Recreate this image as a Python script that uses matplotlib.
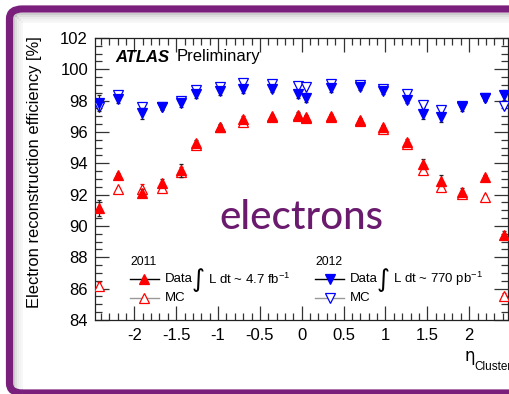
import matplotlib
matplotlib.use("Agg")
import matplotlib.pyplot as plt
from matplotlib.patches import FancyBboxPatch, Rectangle
from matplotlib.lines import Line2D
from matplotlib.ticker import MultipleLocator

plt.rcParams['font.family'] = ['Liberation Sans', 'DejaVu Sans']
plt.rcParams['mathtext.fontset'] = 'custom'
plt.rcParams['mathtext.rm'] = 'Liberation Sans'
plt.rcParams['mathtext.it'] = 'Liberation Sans:italic'

# eta bin centres
eta = [-2.42, -2.19, -1.91, -1.665, -1.445, -1.26, -0.975, -0.7, -0.35, -0.05,
       0.05, 0.35, 0.7, 0.975, 1.26, 1.445, 1.665, 1.91, 2.19, 2.42]

# 2011 efficiencies [%]
data11 = [91.15, 93.25, 92.1, 92.75, 93.55, 95.3, 96.35, 96.85, 96.95, 97.1,
          96.95, 97.0, 96.75, 96.3, 95.35, 93.95, 92.9, 92.2, 93.15, 89.4]
data11_err = [0.5, 0.15, 0.25, 0.25, 0.4, 0.2, 0.15, 0.2, 0.12, 0.15,
              0.15, 0.12, 0.12, 0.15, 0.2, 0.3, 0.35, 0.2, 0.1, 0.25]
mc11 = [86.2, 92.35, 92.35, 92.4, 93.45, 95.2, 96.3, 96.65, 97.0, 97.0,
        96.9, 96.95, 96.7, 96.2, 95.25, 93.6, 92.5, 92.05, 91.85, 85.5]
mc11_err = [0.2, 0.1, 0.3, 0.2, 0.3, 0.15, 0.1, 0.1, 0.1, 0.1,
            0.1, 0.1, 0.1, 0.1, 0.15, 0.25, 0.25, 0.15, 0.1, 0.2]

# 2012 efficiencies [%]
data12 = [97.85, 98.1, 97.2, 97.6, 97.85, 98.4, 98.6, 98.75, 98.75, 98.43,
          98.2, 98.8, 98.9, 98.6, 98.07, 97.15, 96.94, 97.57, 98.15, 98.36]
data12_err = [0.5, 0.25, 0.35, 0.2, 0.25, 0.25, 0.25, 0.25, 0.2, 0.25,
              0.3, 0.25, 0.2, 0.2, 0.25, 0.3, 0.3, 0.25, 0.2, 0.3]
mc12 = [97.6, 98.35, 97.6, 97.6, 98.0, 98.65, 98.9, 99.1, 99.05, 98.96,
        98.9, 99.07, 99.0, 98.75, 98.4, 97.72, 97.4, 97.65, 98.17, 97.65]
mc12_err = [0.15, 0.1, 0.15, 0.1, 0.1, 0.1, 0.1, 0.1, 0.1, 0.1,
            0.1, 0.1, 0.1, 0.1, 0.1, 0.15, 0.15, 0.1, 0.1, 0.15]

RED = '#ff0000'
BLUE = '#0000ff'
PURPLE = '#7b1f7d'

W, H = 510, 394
fig = plt.figure(figsize=(W / 100, H / 100), dpi=100)
fig.patch.set_facecolor('white')

# soft shadow inside the slide frame
for i, a in enumerate([0.20, 0.13, 0.08, 0.05, 0.03]):
    fig.patches.append(Rectangle(((13 + i * 2) / W, 0), 2 / W, 1 - (13 + i * 2) / H,
                                 transform=fig.transFigure, facecolor='black',
                                 alpha=a, edgecolor='none', zorder=0))
    fig.patches.append(Rectangle(((13 + i * 2) / W, 1 - (15 + i * 2) / H), 1, 2 / H,
                                 transform=fig.transFigure, facecolor='black',
                                 alpha=a, edgecolor='none', zorder=0))
# rounded slide frame
frame = FancyBboxPatch((9.5 / W, 1 - 393 / H), 1.2, (393 - 9) / H,
                       boxstyle="round,pad=0,rounding_size=0.025",
                       transform=fig.transFigure, facecolor='none',
                       edgecolor=PURPLE, linewidth=5.2, zorder=1)
fig.patches.append(frame)

x0, x1 = 95, 508.5
y0, y1 = 38, 320
ax = fig.add_axes([x0 / W, 1 - y1 / H, (x1 - x0) / W, (y1 - y0) / H])
ax.set_facecolor('none')
ax.set_xlim(-2.47, 2.47)
ax.set_ylim(84, 102)

ms = 7
ax.errorbar(eta, mc11, yerr=mc11_err, fmt='^', mfc='white', mec=RED, ecolor=RED,
            ms=ms, mew=0.9, elinewidth=0.9, capsize=1.5, zorder=3)
ax.errorbar(eta, data11, yerr=data11_err, fmt='^', mfc=RED, mec=RED, ecolor='#222222',
            ms=ms, mew=0.9, elinewidth=0.9, capsize=1.5, zorder=4)
ax.errorbar(eta, mc12, yerr=mc12_err, fmt='v', mfc='white', mec=BLUE, ecolor=BLUE,
            ms=ms, mew=0.9, elinewidth=0.9, capsize=1.5, zorder=3)
ax.errorbar(eta, data12, yerr=data12_err, fmt='v', mfc=BLUE, mec=BLUE, ecolor='#222222',
            ms=ms, mew=0.9, elinewidth=0.9, capsize=1.5, zorder=4)

ax.xaxis.set_major_locator(MultipleLocator(0.5))
ax.xaxis.set_minor_locator(MultipleLocator(0.1))
ax.yaxis.set_major_locator(MultipleLocator(2))
ax.yaxis.set_minor_locator(MultipleLocator(0.5))
ax.tick_params(which='both', direction='in', top=True, right=True, labelsize=12,
               width=0.9, color='#333333')
ax.tick_params(which='major', length=10)
ax.tick_params(which='minor', length=5)
ax.tick_params(axis='x', pad=6)
ax.tick_params(axis='y', pad=5)
ax.set_xticks([-2, -1.5, -1, -0.5, 0, 0.5, 1, 1.5, 2])
ax.set_xticklabels(['-2', '-1.5', '-1', '-0.5', '0', '0.5', '1', '1.5', '2'])
ax.set_yticks([84, 86, 88, 90, 92, 94, 96, 98, 100, 102])
for s in ax.spines.values():
    s.set_linewidth(0.9)
    s.set_color('#222222')

ax.set_ylabel('Electron reconstruction efficiency [%]', fontsize=11.9)
ax.yaxis.set_label_coords(-(x0 - 42) / (x1 - x0), (y1 - 172.5) / (y1 - y0))

fig.text(465 / W, 1 - 356 / H, '\u03b7', fontsize=12, ha='left', va='center',
         family='DejaVu Sans')
fig.text(474 / W, 1 - 367 / H, 'Cluster', fontsize=8.5, ha='left', va='center')

# header
ax.text((115 - x0) / (x1 - x0), (y1 - 57) / (y1 - y0), 'ATLAS', transform=ax.transAxes,
        fontsize=12, fontweight='bold', style='italic', ha='left', va='center')
ax.text((177 - x0) / (x1 - x0), (y1 - 57) / (y1 - y0), 'Preliminary', transform=ax.transAxes,
        fontsize=12, ha='left', va='center')

fig.text(219 / W, 1 - 217 / H, 'electrons', color='#6a1b6e', fontsize=29,
         family='Lato', fontweight='medium', ha='left', va='center')


def axc(px, py):
    return (px - x0) / (x1 - x0), (y1 - py) / (y1 - y0)


def legend_block(xl, year, mk, col, lumi):
    tx, ty = axc(xl, 262)
    ax.text(tx, ty, year, transform=ax.transAxes, fontsize=8.8, ha='left', va='center')
    for py, fill, lc in [(279, col, 'black'), (298, 'white', '#999999')]:
        a, b = axc(xl, py)
        c, _ = axc(xl + 29, py)
        m, _ = axc(xl + 14.5, py)
        ax.add_line(Line2D([a, c], [b, b], transform=ax.transAxes, color=lc, lw=1.0, zorder=5))
        ax.add_line(Line2D([m], [b], transform=ax.transAxes, marker=mk, ms=6.5, mfc=fill,
                           mec=col, mew=0.9, zorder=6))
    a, b = axc(xl + 35, 279)
    ax.text(a, b, 'Data', transform=ax.transAxes, fontsize=9.5, ha='left', va='center')
    a, b = axc(xl + 35, 298)
    ax.text(a, b, 'MC', transform=ax.transAxes, fontsize=9.5, ha='left', va='center')
    a, b = axc(xl + 62, 280)
    ax.text(a, b, '\u222b', transform=ax.transAxes, fontsize=18, ha='left', va='center',
            family='DejaVu Sans')
    a, b = axc(xl + 78, 279)
    ax.text(a, b, lumi, transform=ax.transAxes, fontsize=9.5, ha='left', va='center')


legend_block(130, '2011', '^', RED, r'L dt ~ 4.7 fb$^{\mathregular{-1}}$')
legend_block(315, '2012', 'v', BLUE, r'L dt ~ 770 pb$^{\mathregular{-1}}$')

fig.savefig('out.png', dpi=100)
